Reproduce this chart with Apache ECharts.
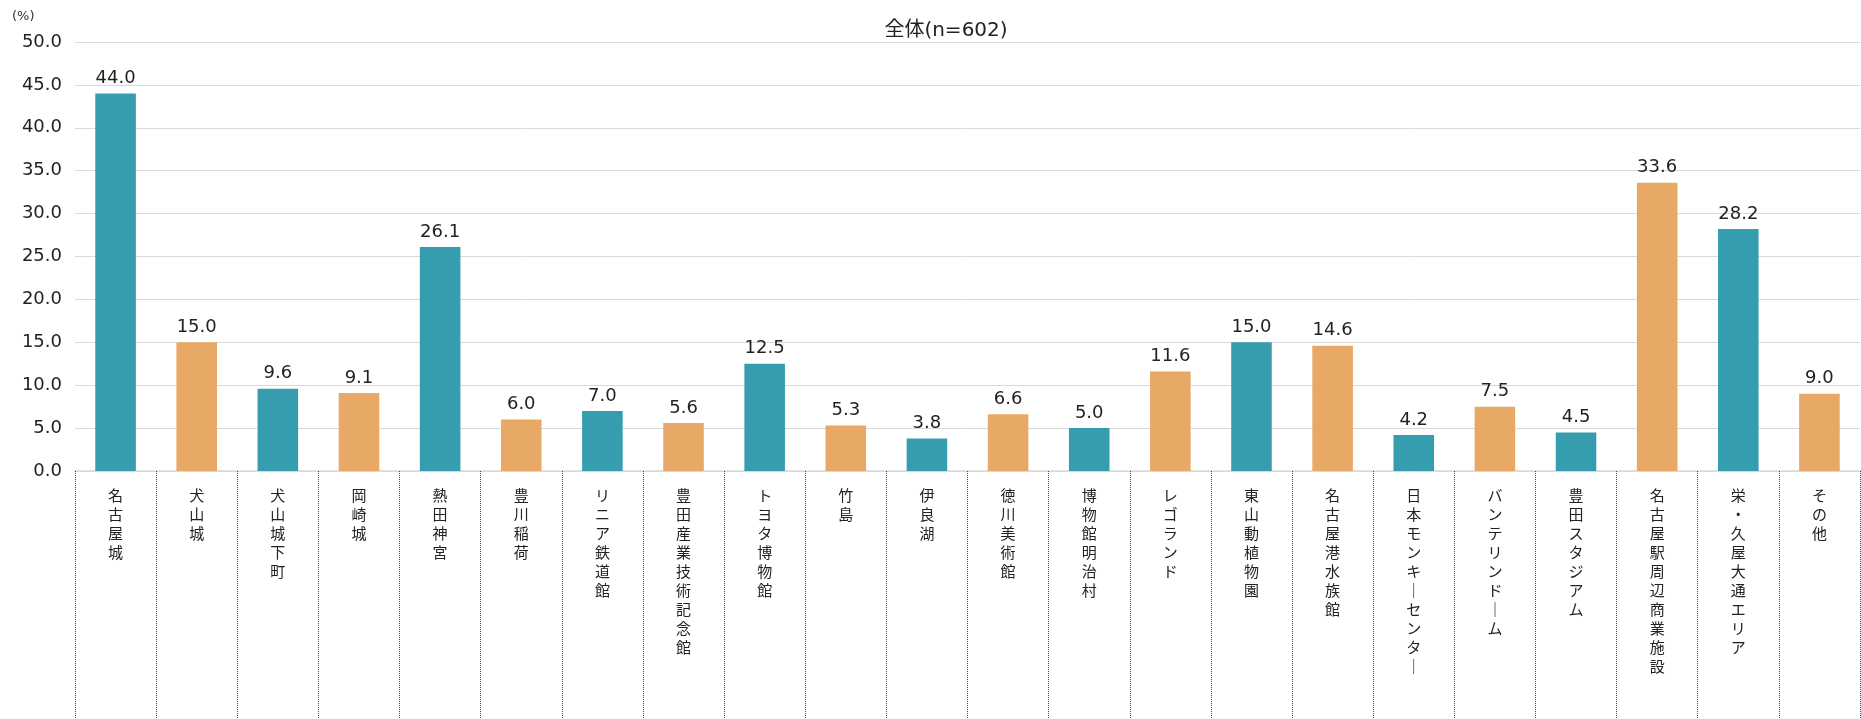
<!DOCTYPE html>
<html><head><meta charset="utf-8">
<script src="https://cdn.jsdelivr.net/npm/echarts@6/dist/echarts.min.js"></script>
<style>html,body{margin:0;padding:0;background:#fff}#c{width:1861px;height:719px}</style>
</head><body><div id="c"></div>
<script>
const categories = ["名古屋城","犬山城","犬山城下町","岡崎城","熱田神宮","豊川稲荷","リニア鉄道館","豊田産業技術記念館","トヨタ博物館","竹島","伊良湖","徳川美術館","博物館明治村","レゴランド","東山動植物園","名古屋港水族館","日本モンキーセンター","バンテリンドーム","豊田スタジアム","名古屋駅周辺商業施設","栄・久屋大通エリア","その他"];
const values = [44.0,15.0,9.6,9.1,26.1,6.0,7.0,5.6,12.5,5.3,3.8,6.6,5.0,11.6,15.0,14.6,4.2,7.5,4.5,33.6,28.2,9.0];
const barColors = ["teal","orange","teal","orange","teal","orange","teal","orange","teal","orange","teal","orange","teal","orange","teal","orange","teal","orange","teal","orange","teal","orange"];
const yTicks = {min:0, max:50, interval:5};
const titleText = "全体(n=602)";
const unitText = "(%)";

const palette = {teal:"#369DAF", orange:"#E8A866"};
const FONT = "'Noto Sans CJK JP', 'Noto Sans', sans-serif";
const NUMFONT = "'DejaVu Sans', 'Noto Sans CJK JP', sans-serif";
const chart = echarts.init(document.getElementById('c'));
chart.setOption({
  animation:false,
  title:{text:titleText,left:941,textAlign:'center',top:16,textStyle:{fontFamily:NUMFONT,fontSize:20,fontWeight:'normal',color:'#222'}},
  graphic:[{type:'text',left:12,top:10,style:{text:unitText,font:"13px "+NUMFONT,fill:'#333'}}],
  grid:{left:75,right:1,top:42,bottom:248,containLabel:false},
  xAxis:{type:'category',data:categories,
    axisLine:{show:true,lineStyle:{color:'#d9d9d9',width:1.5}},
    axisTick:{show:true,interval:0,length:250,lineStyle:{color:'#444',width:1,type:[1,1]}},
    axisLabel:{interval:0,margin:15,fontFamily:FONT,fontSize:15,lineHeight:19,color:'#222',verticalAlign:'top',
      formatter:v=>v.split('').map(ch=>ch==='ー'?'｜':ch).join('\n')}},
  yAxis:{type:'value',min:yTicks.min,max:yTicks.max,interval:yTicks.interval,
    axisLine:{show:false},axisTick:{show:false},
    splitLine:{lineStyle:{color:'#d9d9d9',width:1}},
    axisLabel:{margin:13,fontFamily:NUMFONT,fontSize:18,color:'#222',formatter:v=>v.toFixed(1)}},
  series:[{type:'bar',barWidth:'50%',
    data:values.map((v,i)=>({value:v,itemStyle:{color:palette[barColors[i]]}})),
    label:{show:true,position:'top',distance:6,fontFamily:NUMFONT,fontSize:18,color:'#222',formatter:p=>p.value.toFixed(1)}}]
});
</script></body></html>
